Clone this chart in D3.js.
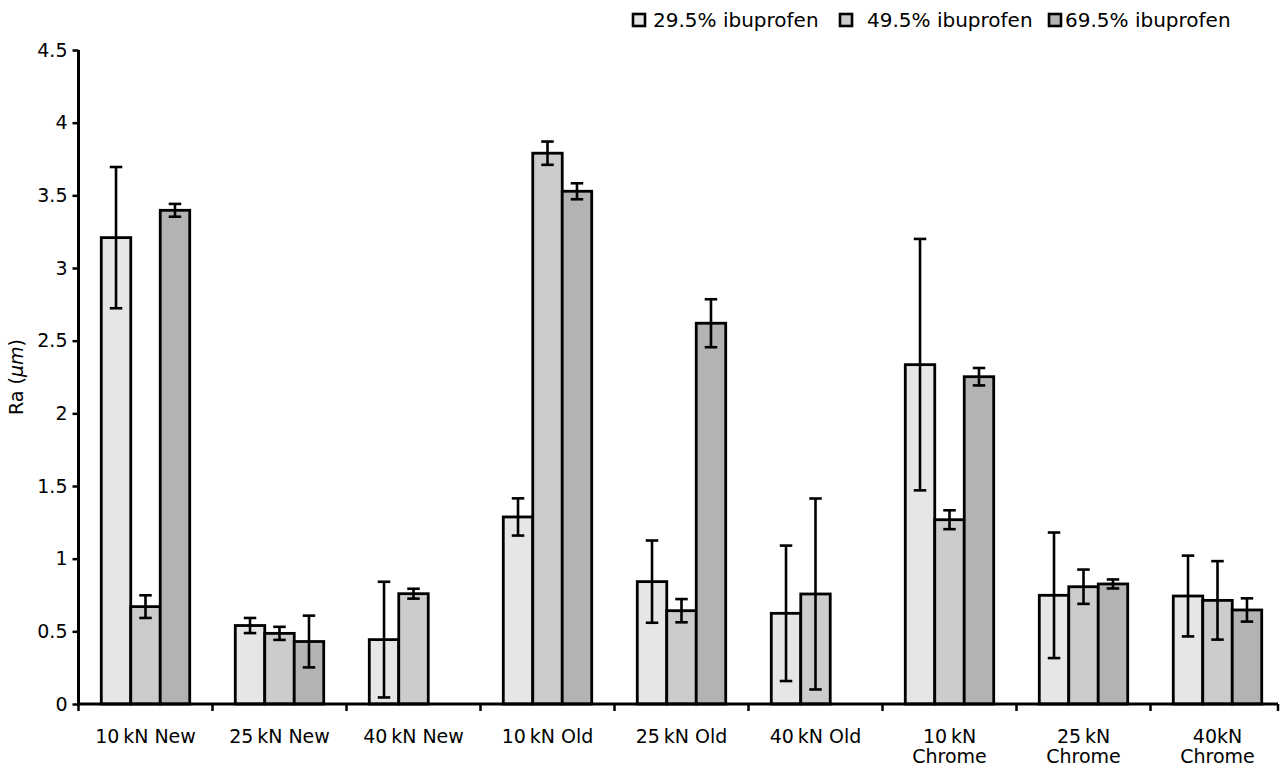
<!DOCTYPE html>
<html>
<head>
<meta charset="utf-8">
<script src="https://cdn.jsdelivr.net/npm/d3@7"></script>
<style>
  html, body { margin: 0; padding: 0; background: #fff; }
  svg { display: block; font-family: "DejaVu Sans", sans-serif; }
</style>
</head>
<body>
<svg id="chart" width="1288" height="769"></svg>
<script>
// ---- data ----
const categories = ["10\u2009kN New", "25\u2009kN New", "40\u2009kN New", "10\u2009kN Old", "25\u2009kN Old", "40\u2009kN Old", "10\u2009kN\nChrome", "25\u2009kN\nChrome", "40kN\nChrome"];
const seriesNames = ["29.5% ibuprofen", "49.5% ibuprofen", "69.5% ibuprofen"];
const ra295 = [3.209, 0.540, 0.443, 1.287, 0.842, 0.624, 2.335, 0.748, 0.743];
const err295 = [0.486, 0.052, 0.398, 0.128, 0.283, 0.466, 0.865, 0.432, 0.278];
const ra495 = [0.670, 0.486, 0.759, 3.790, 0.642, 0.757, 1.268, 0.807, 0.713];
const err495 = [0.078, 0.045, 0.034, 0.080, 0.080, 0.657, 0.065, 0.118, 0.270];
const ra695 = [3.397, 0.430, null, 3.528, 2.620, null, 2.252, 0.826, 0.647];
const err695 = [0.044, 0.178, null, 0.055, 0.165, null, 0.060, 0.031, 0.080];
const yTicks = [0, 0.5, 1, 1.5, 2, 2.5, 3, 3.5, 4, 4.5];
const yLabel = "Ra (";
const fills = ["#e6e6e6", "#cccccc", "#b3b3b3"];

const values = [ra295, ra495, ra695];
const errors = [err295, err495, err695];

// ---- layout ----
const svg = d3.select("#chart");
const plotLeft = 78.5, plotBottom = 704, plotTop = 50;
const bandW = 134;
const axisEnd = 1278;
const fontSize = 19;

const x = d3.scaleBand().domain(categories).range([plotLeft, plotLeft + bandW * categories.length]).paddingInner(0).paddingOuter(0);
const xs = d3.scaleBand().domain(seriesNames).range([0, x.bandwidth() * 0.66]).padding(0);
const groupOffset = (x.bandwidth() - x.bandwidth() * 0.66) / 2;
const y = d3.scaleLinear().domain([0, 4.5]).range([plotBottom, plotTop]);

// ---- bars ----
const rows = [];
categories.forEach((c, i) => {
  seriesNames.forEach((s, j) => {
    if (values[j][i] != null) rows.push({ c, s, j, v: values[j][i], e: errors[j][i] });
  });
});

const g = svg.append("g");
g.selectAll("rect.bar").data(rows).join("rect")
  .attr("class", "bar")
  .attr("x", d => x(d.c) + groupOffset + xs(d.s))
  .attr("y", d => y(d.v))
  .attr("width", xs.bandwidth())
  .attr("height", d => y(0) - y(d.v))
  .attr("fill", d => fills[d.j])
  .attr("stroke", "#000")
  .attr("stroke-width", 2.8);

// ---- error bars ----
const capW = 12.5;
const eb = g.selectAll("g.err").data(rows).join("g").attr("class", "err")
  .attr("transform", d => `translate(${x(d.c) + groupOffset + xs(d.s) + xs.bandwidth() / 2},0)`);
eb.append("line").attr("x1", 0).attr("x2", 0)
  .attr("y1", d => y(d.v + d.e)).attr("y2", d => y(d.v - d.e))
  .attr("stroke", "#000").attr("stroke-width", 2.6);
eb.append("line").attr("x1", -capW / 2).attr("x2", capW / 2)
  .attr("y1", d => y(d.v + d.e)).attr("y2", d => y(d.v + d.e))
  .attr("stroke", "#000").attr("stroke-width", 2.6);
eb.append("line").attr("x1", -capW / 2).attr("x2", capW / 2)
  .attr("y1", d => y(d.v - d.e)).attr("y2", d => y(d.v - d.e))
  .attr("stroke", "#000").attr("stroke-width", 2.6);

// ---- y axis ----
const yAxis = svg.append("g").attr("transform", `translate(${plotLeft},0)`)
  .call(d3.axisLeft(y).tickValues(yTicks).tickSize(6).tickPadding(5).tickFormat(d3.format("~g")));
yAxis.select(".domain").attr("stroke-width", 3).attr("d", `M0,${plotTop}V${plotBottom + 1.5}`);
yAxis.selectAll(".tick line").attr("stroke-width", 2.5);
yAxis.selectAll("text").attr("font-size", fontSize).attr("font-family", "DejaVu Sans").attr("fill", "#000");

// ---- x axis ----
const xAxisG = svg.append("g").attr("transform", `translate(0,${plotBottom})`);
xAxisG.append("path")
  .attr("d", `M${plotLeft - 1.5},0H${axisEnd}`)
  .attr("stroke", "#000").attr("stroke-width", 3).attr("fill", "none");
const edges = categories.map(c => x(c)).concat([axisEnd]);
xAxisG.selectAll("line.tk").data(edges).join("line").attr("class", "tk")
  .attr("x1", d => d).attr("x2", d => d).attr("y1", 0).attr("y2", 7)
  .attr("stroke", "#000").attr("stroke-width", 2.5);
const lbl = xAxisG.selectAll("text.cat").data(categories).join("text").attr("class", "cat")
  .attr("x", d => x(d) + x.bandwidth() / 2)
  .attr("y", 39)
  .attr("text-anchor", "middle")
  .attr("font-size", fontSize);
lbl.each(function (d) {
  const t = d3.select(this);
  d.split("\n").forEach((line, k) => {
    t.append("tspan").attr("x", x(d) + x.bandwidth() / 2).attr("dy", k === 0 ? 0 : 20).text(line);
  });
});

// ---- y label ----
const yl = svg.append("text")
  .attr("transform", `translate(23,${(plotTop + plotBottom) / 2}) rotate(-90)`)
  .attr("text-anchor", "middle")
  .attr("font-size", fontSize);
yl.append("tspan").text(yLabel);
yl.append("tspan").attr("font-style", "italic").text("\u03bcm");
yl.append("tspan").text(")");

// ---- legend ----
const legendStarts = [632, 839, 1048];
const legendTextGap = [21, 28, 17];
const lg = svg.append("g").selectAll("g").data(seriesNames).join("g")
  .attr("transform", (d, i) => `translate(${legendStarts[i]},0)`);
lg.append("rect").attr("x", 1).attr("y", 14).attr("width", 12).attr("height", 12)
  .attr("fill", (d, i) => fills[i]).attr("stroke", "#000").attr("stroke-width", 2.6);
lg.append("text").attr("x", (d, i) => legendTextGap[i]).attr("y", 27)
  .attr("font-size", 20).text(d => d);
</script>
</body>
</html>
